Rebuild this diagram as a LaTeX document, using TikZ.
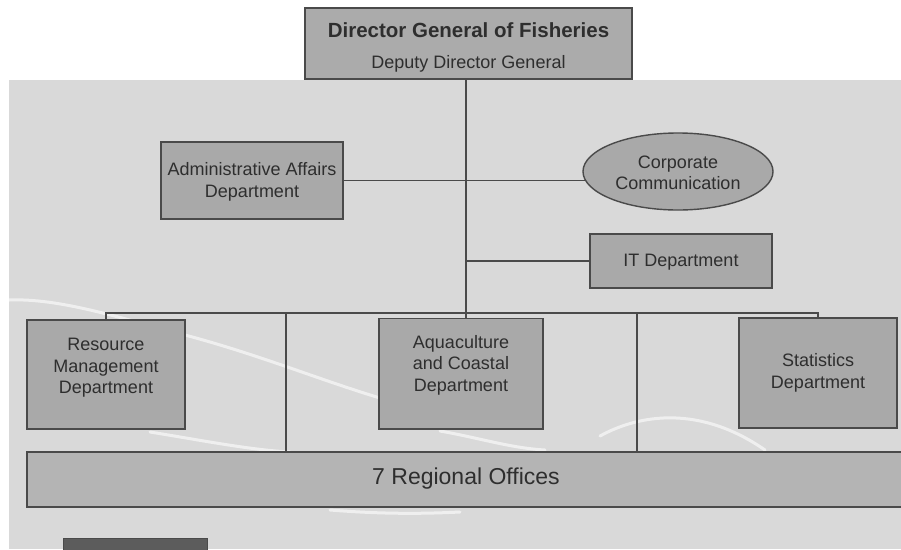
\documentclass[tikz,border=0pt]{standalone}
\usepackage{fontspec}
\setmainfont{Liberation Sans}
\usetikzlibrary{shapes.geometric}

\definecolor{panel}{HTML}{D9D9D9}
\definecolor{boxfill}{HTML}{A9A9A9}
\definecolor{headfill}{HTML}{ABABAB}
\definecolor{barfill}{HTML}{B4B4B4}
\definecolor{edge}{HTML}{4A4A4A}
\definecolor{ink}{HTML}{2E2E2E}
\definecolor{tab}{HTML}{5C5C5C}

\begin{document}
\begin{tikzpicture}[x=1pt,y=-1pt,
  unit/.style={draw=edge, fill=boxfill, line width=1.4pt, inner sep=0pt},
  caption/.style={align=center, text=ink, inner sep=0pt,
    font=\fontsize{18}{21.5}\selectfont},
  link/.style={draw=edge, line width=1.3pt},
  swirl/.style={draw=white, line width=3pt, opacity=0.6, line cap=round}]

% page and textured panel
\useasboundingbox (0,0) rectangle (901,549);
\fill[white] (0,0) rectangle (901,549);
\fill[panel] (9,80) rectangle (901,549);

% decorative white swirls on the panel
\draw[swirl] (9,300) .. controls (60,298) and (120,318) .. (185,335)
  .. controls (260,355) and (320,380) .. (380,398);
\draw[swirl] (150,432) .. controls (200,440) and (250,450) .. (290,452);
\draw[swirl] (440,431) .. controls (480,438) and (510,448) .. (545,450);
\draw[swirl] (600,436) .. controls (640,414) and (700,405) .. (765,450);
\draw[swirl] (330,510) .. controls (380,514) and (420,514) .. (460,512);

% director general
\node[unit, fill=headfill, line width=1.8pt, minimum width=327, minimum height=71] (dg) at (468.5,43.5) {};
\node[caption, font=\bfseries\fontsize{20.5}{24}\selectfont] (dgt) at (468.5,30) {Director General of Fisheries};
\node[caption] (ddg) at (468.5,63.5) {Deputy Director General};

% staff units
\node[unit, minimum width=182, minimum height=77] (adm) at (252,180.5) {};
\node[caption] (admt) at (252,182) {Administrative Affairs\\Department};

\node[unit, ellipse, minimum width=190, minimum height=77] (cc) at (678,171.5) {};
\node[caption] (cct) at (678,173) {Corporate\\Communication};

\node[unit, minimum width=182, minimum height=54] (it) at (681,261) {};
\node[caption] (itt) at (681,262) {IT Department};

% line departments
\node[unit, minimum width=158, minimum height=109] (res) at (106,374.5) {};
\node[caption] (rest) at (106,368) {Resource\\Management\\Department};

\node[unit, minimum width=164, minimum height=110.5] (aqua) at (461,373.75) {};
\node[caption] (aquat) at (461,365) {Aquaculture\\and Coastal\\Department};

\node[unit, minimum width=158, minimum height=110] (stat) at (818,373) {};
\node[caption] (statt) at (818,373) {Statistics\\Department};

% regional offices
\node[unit, fill=barfill, minimum width=878, minimum height=55] (reg) at (466,479.5) {};
\node[caption, font=\fontsize{23}{27}\selectfont] (regt) at (466,479) {7 Regional Offices};

% dark tab at the foot of the panel
\node[draw=edge, fill=tab, line width=1pt, minimum width=144, minimum height=16, inner sep=0pt] (foot) at (135,546) {};

% junction points
\coordinate (bus) at (466,313);
\coordinate (dl) at (286,313);
\coordinate (dr) at (637,313);

% connectors
\draw[link] (dg.south -| bus) -- (aqua.north -| bus);
\draw[link] (adm.east) -- ([xshift=3]adm.east -| cc.west);
\draw[link] (it.west) -- (it.west -| bus);
\draw[link] (res.north) |- (bus) -| (stat.north);
\draw[link] (dl) -- (dl |- reg.north);
\draw[link] (dr) -- (dr |- reg.north);
\end{tikzpicture}
\end{document}
